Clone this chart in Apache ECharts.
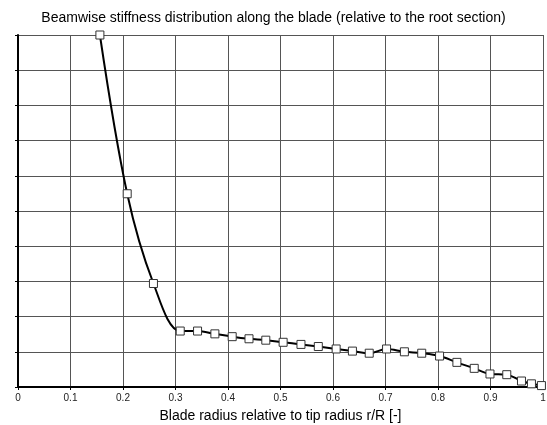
<!DOCTYPE html>
<html>
<head>
<meta charset="utf-8">
<script src="https://cdn.jsdelivr.net/npm/echarts@6/dist/echarts.min.js"></script>
<style>
  html, body { margin: 0; padding: 0; background: #fff; }
  #chart { width: 547px; height: 425px; }
</style>
</head>
<body>
<div id="chart"></div>
<script>
// r/R positions and beamwise stiffness relative to root section
const rRatio = [0.156, 0.208, 0.258, 0.309, 0.342, 0.375, 0.408, 0.440, 0.472,
  0.505, 0.539, 0.572, 0.606, 0.637, 0.669, 0.702, 0.736, 0.769, 0.803,
  0.836, 0.869, 0.899, 0.931, 0.959, 0.978, 0.997];
const stiffness = [1.0, 0.549, 0.294, 0.159, 0.159, 0.151, 0.143, 0.137, 0.133,
  0.127, 0.121, 0.115, 0.108, 0.102, 0.096, 0.108, 0.100, 0.096, 0.088,
  0.070, 0.053, 0.037, 0.035, 0.017, 0.009, 0.004];

const points = rRatio.map((r, i) => [r, stiffness[i]]);

const chart = echarts.init(document.getElementById('chart'));

chart.setOption({
  animation: false,
  title: {
    text: 'Beamwise stiffness distribution along the blade (relative to the root section)',
    left: 'center',
    top: 6,
    textStyle: { fontFamily: 'Liberation Sans', fontSize: 14, fontWeight: 'normal', color: '#000' }
  },
  grid: { left: 18, right: 4, top: 35, bottom: 38, containLabel: false, outerBoundsMode: 'none' },
  xAxis: {
    type: 'value',
    min: 0,
    max: 1,
    interval: 0.1,
    name: 'Blade radius relative to tip radius r/R [-]',
    nameLocation: 'middle',
    nameGap: 22,
    nameTextStyle: { fontFamily: 'Liberation Sans', fontSize: 14, color: '#000' },
    axisLine: { lineStyle: { color: '#000', width: 2 } },
    axisTick: { show: true, length: 3, lineStyle: { color: '#000' } },
    axisLabel: { fontFamily: 'Liberation Sans', fontSize: 10, color: '#222', margin: 6 },
    splitLine: { show: true, lineStyle: { color: '#555', width: 1 } }
  },
  yAxis: {
    type: 'value',
    min: 0,
    max: 1,
    interval: 0.1,
    axisLine: { show: true, lineStyle: { color: '#000', width: 2 } },
    axisTick: { show: true, length: 3, lineStyle: { color: '#000' } },
    axisLabel: { show: false },
    splitLine: { show: true, lineStyle: { color: '#555', width: 1 } }
  },
  series: [{
    type: 'line',
    data: points,
    smooth: 0.35,
    symbol: 'rect',
    symbolSize: 8,
    showAllSymbol: true,
    lineStyle: { color: '#000', width: 2 },
    itemStyle: { color: '#fff', borderColor: '#333', borderWidth: 1 },
    clip: false
  }]
});
</script>
</body>
</html>
